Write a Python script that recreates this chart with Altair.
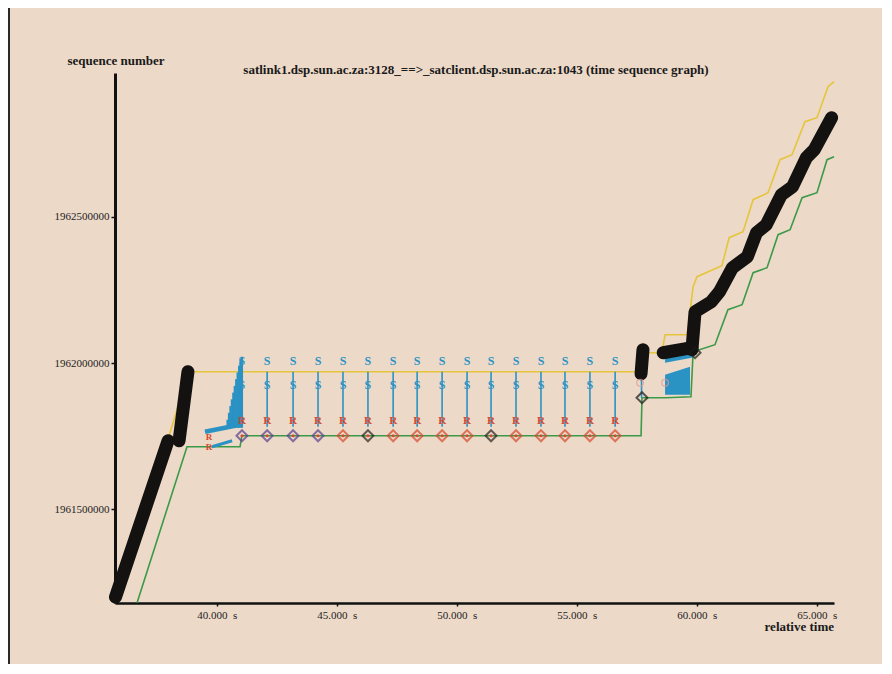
import altair as alt
import pandas as pd

FONT = "Liberation Serif"
BG = "#ecd9c8"
YELLOW = "#e6c53a"
GREEN = "#3a9a48"
BLUE = "#2b92c4"
RED = "#d9482e"

# ---- axes ----
x_ticks = [40, 45, 50, 55, 60, 65]
y_ticks = [1961500000, 1962000000, 1962500000]
x_domain = [35.76, 65.72]
y_domain = [1961180000, 1962991000]

# ---- yellow (advertised window) ----
yellow_t = [37.89, 38.26, 38.72, 39.01, 57.64, 57.76, 58.55, 58.68, 59.60, 59.85, 60.01,
            61.05, 61.35, 61.93, 62.35, 62.97, 63.47, 63.97, 64.51, 65.01, 65.47, 65.72]
yellow_seq = [1961720780, 1961816480, 1961949760, 1961970270, 1961970270, 1962035200,
              1962035200, 1962096720, 1962096720, 1962260760, 1962294940, 1962332530,
              1962428230, 1962448730, 1962558090, 1962582020, 1962694800, 1962711890,
              1962824670, 1962838340, 1962944280, 1962961370]

# ---- green (ack) ----
green_t = [36.68, 38.76, 40.97, 41.05, 57.68, 57.72, 58.72, 59.76, 59.85, 60.76, 61.30,
           61.89, 62.35, 62.93, 63.39, 63.89, 64.39, 65.01, 65.43, 65.72]
green_seq = [1961180800, 1961713950, 1961713950, 1961751540, 1961751540, 1961881410,
             1961881410, 1961884830, 1962038620, 1962062540, 1962182160, 1962199250,
             1962308610, 1962325700, 1962438480, 1962455570, 1962564930, 1962582020,
             1962694800, 1962705050]

# ---- black data segments ----
black_seg = [1, 1, 2, 2, 3, 3, 4, 4,
             5, 5, 5, 5, 5, 5, 5, 5, 5, 5, 5, 5, 5]
black_t = [35.78, 37.97, 38.43, 38.80, 57.68, 57.76, 58.60, 59.80,
           59.80, 59.93, 60.61, 60.95, 61.49, 62.11, 62.49, 62.90, 63.53, 63.99, 64.57, 64.90, 65.62]
black_seq = [1961200000, 1961734450, 1961734450, 1961970270, 1961963430, 1962045450,
             1962035200, 1962052290,
             1962045450, 1962175320, 1962209500, 1962243680, 1962325700, 1962363290,
             1962445310, 1962472650, 1962575180, 1962602520, 1962701630, 1962728970, 1962838340]

# ---- SACK / retransmission columns ----
sack_t = [41.05, 42.10, 43.18, 44.22, 45.26, 46.30, 47.35, 48.35,
          49.39, 50.43, 51.43, 52.47, 53.51, 54.51, 55.55, 56.60]
sack_top = 1961970270
sack_bottom = 1961782300
s_top_seq = 1962007860
s_mid_seq = 1961925840
r_seq = 1961802800
diamond_seq = 1961751540
diamond_color = ["#5a3f8e", "#5a3f8e", "#5a3f8e", "#5a3f8e", RED, "#2a2320", RED, RED,
                 RED, RED, "#2a2320", RED, RED, RED, RED, RED]

# ---- blue fan near 40.5 s ----
fan_t = [40.45, 40.51, 40.57, 40.63, 40.69, 40.75, 40.81, 40.87, 40.93, 40.99, 41.05]
fan_top = [1961806220, 1961830000, 1961853000, 1961876000, 1961899000, 1961922000,
           1961945000, 1961968000, 1961991000, 1962010000, 1962021530]
fan_bottom = 1961778880
fan_bar_t = [39.51, 40.97]
fan_bar_seq = [1961765210, 1961789130]
fan_wedge_t = [39.80, 40.64]
fan_wedge_seq = [1961713950, 1961734450]
fan_r_t = [39.68, 39.68]
fan_r_seq = [1961748120, 1961713950]

# ---- blue blocks near 59 s ----
block_t = [58.68, 59.72]
block_top = [1961960010, 1961987360]
block_bot = [1961891660, 1961891660]
band_t = [58.68, 59.80]
band_top = [1962028370, 1962045450]
band_bot = [1962001030, 1962018110]
drop_t = [57.70]
drop_top = [1961963430]
drop_bot = [1961881410]

pink_t = [57.64, 58.68]
pink_seq = [1961932670, 1961932670]
bdiam_t = [57.72, 59.93]
bdiam_seq = [1961881410, 1962035200]

TITLE = "satlink1.dsp.sun.ac.za:3128_==>_satclient.dsp.sun.ac.za:1043 (time sequence graph)"

# ---- encodings ----
xs = alt.Scale(domain=x_domain, nice=False, zero=False)
ys = alt.Scale(domain=y_domain, nice=False, zero=False)
x_axis = alt.Axis(values=x_ticks, labelExpr="format(datum.value, '.3f') + '\u2002s'",
                  title=None, grid=False, domainColor="#111", domainWidth=2.5,
                  tickColor="#111", tickSize=3, tickWidth=1.5, labelFont=FONT,
                  labelFontSize=11, labelColor="#222", labelPadding=3)
y_axis = alt.Axis(values=y_ticks, format="d", title=None, grid=False, domainColor="#111",
                  domainWidth=3, tickColor="#111", tickSize=4, tickWidth=1.5,
                  labelFont=FONT, labelFontSize=11, labelColor="#222", labelPadding=2)


def X(f="t"):
    return alt.X(f"{f}:Q", scale=xs, axis=x_axis)


def Y(f="seq"):
    return alt.Y(f"{f}:Q", scale=ys, axis=y_axis)


df_y = pd.DataFrame({"t": yellow_t, "seq": yellow_seq, "i": range(len(yellow_t))})
df_g = pd.DataFrame({"t": green_t, "seq": green_seq, "i": range(len(green_t))})
df_b = pd.DataFrame({"t": black_t, "seq": black_seq, "seg": black_seg, "i": range(len(black_t))})
df_s = pd.DataFrame({"t": sack_t, "top": sack_top, "bot": sack_bottom, "s1": s_top_seq,
                     "s2": s_mid_seq, "r": r_seq, "d": diamond_seq, "col": diamond_color})
df_fan = pd.DataFrame({"t": fan_t, "top": fan_top, "bot": fan_bottom})
df_bar = pd.DataFrame({"t": fan_bar_t, "seq": fan_bar_seq})
df_wedge = pd.DataFrame({"t": fan_wedge_t, "seq": fan_wedge_seq})
df_fr = pd.DataFrame({"t": fan_r_t, "seq": fan_r_seq})
df_block = pd.DataFrame({"t": block_t, "top": block_top, "bot": block_bot})
df_band = pd.DataFrame({"t": band_t, "top": band_top, "bot": band_bot})
df_drop = pd.DataFrame({"t": drop_t, "top": drop_top, "bot": drop_bot})
df_pink = pd.DataFrame({"t": pink_t, "seq": pink_seq})
df_bd = pd.DataFrame({"t": bdiam_t, "seq": bdiam_seq})
one = pd.DataFrame({"k": [0]})

yellow = alt.Chart(df_y).mark_line(color=YELLOW, strokeWidth=1.6).encode(x=X(), y=Y(), order="i:Q")
green = alt.Chart(df_g).mark_line(color=GREEN, strokeWidth=1.6).encode(x=X(), y=Y(), order="i:Q")

sack_rules = alt.Chart(df_s).mark_rule(color=BLUE, strokeWidth=1.6).encode(
    x=X(), y=Y("top"), y2="bot:Q")
fan_rules = alt.Chart(df_fan).mark_rule(color=BLUE, strokeWidth=2.2).encode(
    x=X(), y=Y("top"), y2="bot:Q")
fan_bar = alt.Chart(df_bar).mark_line(color=BLUE, strokeWidth=4.5).encode(x=X(), y=Y())
fan_wedge = alt.Chart(df_wedge).mark_line(color=BLUE, strokeWidth=3).encode(x=X(), y=Y())
block = alt.Chart(df_block).mark_area(color=BLUE, opacity=1).encode(x=X(), y=Y("top"), y2="bot:Q")
band = alt.Chart(df_band).mark_area(color=BLUE, opacity=1).encode(x=X(), y=Y("top"), y2="bot:Q")
drop = alt.Chart(df_drop).mark_rule(color=BLUE, strokeWidth=1.6).encode(
    x=X(), y=Y("top"), y2="bot:Q")

black = alt.Chart(df_b).mark_line(color="#141210", strokeWidth=13, strokeCap="round",
                                  strokeJoin="round").encode(
    x=X(), y=Y(), detail="seg:N", order="i:Q")

s_top = alt.Chart(df_s).mark_text(text="S", font=FONT, fontWeight="bold", fontSize=12,
                                  color=BLUE, baseline="middle").encode(x=X(), y=Y("s1"))
s_mid = alt.Chart(df_s).mark_text(text="S", font=FONT, fontWeight="bold", fontSize=12,
                                  color=BLUE, baseline="middle").encode(x=X(), y=Y("s2"))
r_txt = alt.Chart(df_s).mark_text(text="R", font=FONT, fontWeight="bold", fontSize=11,
                                  color=RED, baseline="middle").encode(x=X(), y=Y("r"))
fan_r = alt.Chart(df_fr).mark_text(text="R", font=FONT, fontWeight="bold", fontSize=9,
                                   color=RED, baseline="middle").encode(x=X(), y=Y())
diamonds = alt.Chart(df_s).mark_point(shape="diamond", size=120, filled=False,
                                      strokeWidth=2).encode(
    x=X(), y=Y("d"), color=alt.Color("col:N", scale=None))
dots = alt.Chart(df_s).mark_point(shape="circle", size=10, filled=True, color=RED,
                                  opacity=1).encode(x=X(), y=Y("d"))
pink = alt.Chart(df_pink).mark_point(shape="circle", size=45, filled=False, color="#e59a96",
                                     strokeWidth=1.3).encode(x=X(), y=Y())
bdiam = alt.Chart(df_bd).mark_point(shape="diamond", size=120, filled=False, color="#1a1a1a",
                                    strokeWidth=2).encode(x=X(), y=Y())

title_txt = alt.Chart(one).mark_text(text=TITLE, font=FONT, fontWeight="bold", fontSize=13,
                                     color="#1a1a1a", align="center", baseline="middle").encode(
    x=alt.value(361), y=alt.value(-3))
ylab = alt.Chart(one).mark_text(text="sequence number", font=FONT, fontWeight="bold",
                                fontSize=13, color="#1a1a1a", align="center",
                                baseline="middle").encode(x=alt.value(1), y=alt.value(-12))
xlab = alt.Chart(one).mark_text(text="relative time", font=FONT, fontWeight="bold",
                                fontSize=13, color="#1a1a1a", align="right",
                                baseline="middle").encode(x=alt.value(719), y=alt.value(554))
border = alt.Chart(one).mark_rule(color="#2a2a2a", strokeWidth=2).encode(
    x=alt.value(-106), y=alt.value(-80), y2=alt.value(620))

chart = alt.layer(
    yellow, green, fan_rules, fan_bar, fan_wedge, block, band, drop, sack_rules,
    black, s_top, s_mid, r_txt, fan_r, diamonds, dots, pink, bdiam,
    title_txt, ylab, xlab, border
).properties(
    width=719, height=530,
    autosize=alt.AutoSizeParams(type="none"),
    padding={"left": 107, "top": 65, "right": 48, "bottom": 61},
    background=BG,
).configure_view(stroke=None)

chart.save("out.html", embed_options={"renderer": "svg", "actions": False})
